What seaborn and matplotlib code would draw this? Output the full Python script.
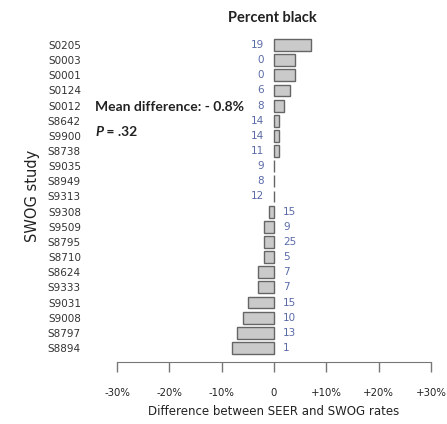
import matplotlib
matplotlib.use("Agg")
import matplotlib.pyplot as plt
import seaborn as sns
import pandas as pd

studies = ["S0205", "S0003", "S0001", "S0124", "S0012", "S8642", "S9900", "S8738",
           "S9035", "S8949", "S9313", "S9308", "S9509", "S8795", "S8710", "S8624",
           "S9333", "S9031", "S9008", "S8797", "S8894"]
difference = [7, 4, 4, 3, 2, 1, 1, 1, 0, 0, 0, -1, -2, -2, -2, -3, -3, -5, -6, -7, -8]
pct_black = [19, 0, 0, 6, 8, 14, 14, 11, 9, 8, 12, 15, 9, 25, 5, 7, 7, 15, 10, 13, 1]
xticks = [-30, -20, -10, 0, 10, 20, 30]
xtick_labels = ["-30%", "-20%", "-10%", "0", "+10%", "+20%", "+30%"]

sns.set_style("white")
plt.rcParams["font.family"] = ["DejaVu Sans"]
BOLD_FONT = ["Lato", "DejaVu Sans"]

df = pd.DataFrame({"study": studies, "diff": difference})

W, H = 447, 424
fig, ax = plt.subplots(figsize=(W / 100, H / 100), dpi=100)
fig.subplots_adjust(left=117 / W, right=431 / W, bottom=1 - 362 / H, top=1 - 30 / H)

sns.barplot(data=df, x="diff", y="study", orient="h", order=studies,
            color="#cacaca", edgecolor="#656565", linewidth=1.0, width=0.78,
            saturation=1, ax=ax)

ax.set_xlim(-30, 30)
ax.set_ylim(len(studies) - 1 + 0.924, -0.99)

for i, (d, n) in enumerate(zip(difference, pct_black)):
    if d >= 0:
        ax.text(-1.9, i, str(n), ha="right", va="center", fontsize=7.5, color="#5a6aa8")
    else:
        ax.text(1.7, i, str(n), ha="left", va="center", fontsize=7.5, color="#5a6aa8")

for s in ["top", "right", "left"]:
    ax.spines[s].set_visible(False)
ax.spines["bottom"].set_color("#777777")

ax.set_xticks(xticks)
ax.set_xticklabels(xtick_labels, fontsize=7.3, color="#222222")
ax.tick_params(axis="x", bottom=True, direction="out", length=7, width=1.0, color="#777777", pad=12)
ax.tick_params(axis="y", length=0, pad=26, labelsize=7.5, labelcolor="#333333")

ax.set_xlabel("Difference between SEER and SWOG rates", fontsize=8.5, color="#222222", labelpad=5)
ax.set_ylabel("")
fig.text(32 / W, 1 - 196 / H, "SWOG study", rotation=90, ha="center", va="center",
         fontsize=10.5, color="#222222")

fig.text(272 / W, 1 - 18 / H, "Percent black", ha="center", va="center",
         fontsize=10.5, fontweight="bold", family=BOLD_FONT, color="#222222")
fig.text(95 / W, 1 - 107 / H, "Mean difference: - 0.8%", ha="left", va="center",
         fontsize=10, fontweight="bold", family=BOLD_FONT, color="#222222")
fig.text(95 / W, 1 - 132 / H, "P", ha="left", va="center", fontsize=10,
         fontweight="bold", style="italic", family=BOLD_FONT, color="#222222")
fig.text(103 / W, 1 - 132 / H, " = .32", ha="left", va="center", fontsize=10,
         fontweight="bold", family=BOLD_FONT, color="#222222")

fig.savefig("out.png", dpi=100)
